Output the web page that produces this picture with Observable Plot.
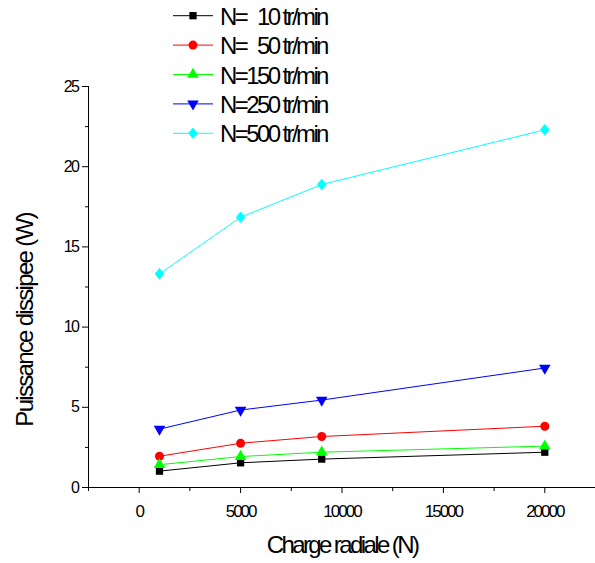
<!DOCTYPE html>
<html><head><meta charset="utf-8">
<script src="https://cdn.jsdelivr.net/npm/d3@7"></script>
<script src="https://cdn.jsdelivr.net/npm/@observablehq/plot@0.6"></script>
<style>
body{margin:0;background:#fff;}
#chart svg{display:block;font-family:"Liberation Sans",Arial,sans-serif;background:#fff;}
</style></head><body><div id="chart"></div>
<script>
// ---- data ----
const loads = [1000, 5000, 9000, 20000];
const seriesLabels = ["N=\u200710 tr/min", "N=\u200750 tr/min", "N=150 tr/min", "N=250 tr/min", "N=500 tr/min"];
const seriesColors = ["#000000", "#ff0000", "#00ff00", "#0000ff", "#00ffff"];
const seriesSymbols = ["square", "circle", "triangle", "triangle-down", "diamond"];
const power10 = [1.02, 1.54, 1.77, 2.2];
const power50 = [1.95, 2.76, 3.18, 3.82];
const power150 = [1.42, 1.93, 2.2, 2.58];
const power250 = [3.64, 4.83, 5.45, 7.45];
const power500 = [13.32, 16.85, 18.89, 22.3];
const xTicks = [0, 5000, 10000, 15000, 20000];
const xMinorTicks = [-2500, 2500, 7500, 12500, 17500];
const yTicks = [0, 5, 10, 15, 20, 25];
const yMinorTicks = [2.5, 7.5, 12.5, 17.5, 22.5];
const xTitle = "Charge radiale (N)";
const yTitle = "Puissance dissipee (W)";

const allPower = [power10, power50, power150, power250, power500];

const triangleDown = {
  draw(ctx, size) {
    const s3 = Math.sqrt(3);
    const y = -Math.sqrt(size / (s3 * 3));
    ctx.moveTo(0, -y * 2);
    ctx.lineTo(-s3 * y, y);
    ctx.lineTo(s3 * y, y);
    ctx.closePath();
  }
};
const wideDiamond = {
  draw(ctx, size) {
    const h = Math.sqrt(size * 2 / 0.82) / 2;
    const w = h * 0.82;
    ctx.moveTo(0, -h);
    ctx.lineTo(w, 0);
    ctx.lineTo(0, h);
    ctx.lineTo(-w, 0);
    ctx.closePath();
  }
};
const symbolTypes = {
  square: d3.symbolSquare, circle: d3.symbolCircle, triangle: d3.symbolTriangle,
  "triangle-down": triangleDown, diamond: wideDiamond
};
const symbolRadius = [4.1, 4.5, 4.3, 4.3, 4.2];

const rows = [];
allPower.forEach((vals, si) => {
  vals.forEach((v, i) => rows.push({series: seriesLabels[si], load: loads[i], power: v, si}));
});

const marks = [
  Plot.ruleY([0], {stroke: "#000", strokeWidth: 1}),
  Plot.ruleX([-2500], {stroke: "#000", strokeWidth: 1}),
  Plot.axisX({ticks: xTicks, tickSize: 6, tickPadding: 11, fontSize: 17, label: null, tickFormat: d => String(d)}),
  Plot.axisX({ticks: xMinorTicks, tickSize: 4, text: null, label: null}),
  Plot.axisY({ticks: yTicks, tickSize: 6, tickPadding: 4, fontSize: 16, label: null, tickFormat: d => String(d)}),
  Plot.axisY({ticks: yMinorTicks, tickSize: 3, text: null, label: null})
];
seriesLabels.forEach((lab, si) => {
  const data = rows.filter(r => r.si === si);
  marks.push(Plot.line(data, {x: "load", y: "power", stroke: seriesColors[si], strokeWidth: 1}));
  marks.push(Plot.dot(data, {x: "load", y: "power", fill: seriesColors[si], stroke: "none",
    symbol: symbolTypes[seriesSymbols[si]], r: symbolRadius[si]}));
});

const chart = Plot.plot({
  width: 595, height: 563,
  marginLeft: 88, marginRight: 0, marginTop: 86, marginBottom: 76,
  x: {domain: [-2500, 22500]},
  y: {domain: [0, 25]},
  style: {fontFamily: "'Liberation Sans', Arial, sans-serif", color: "#000", background: "#fff"},
  marks
});
document.getElementById("chart").appendChild(chart);

const svg = d3.select(chart);
svg.selectAll('g[aria-label="x-axis tick label"] text').style("letter-spacing", "-2px");
svg.selectAll('g[aria-label="y-axis tick label"] text').style("letter-spacing", "-1.5px");

// axis titles
svg.append("text").text(xTitle)
  .attr("x", 342).attr("y", 553).attr("text-anchor", "middle")
  .attr("font-size", 24).style("letter-spacing", "-2.6px").attr("fill", "#000");
svg.append("text").text(yTitle)
  .attr("transform", "translate(33,320) rotate(-90)").attr("text-anchor", "middle")
  .attr("font-size", 24).style("letter-spacing", "-1.7px").attr("fill", "#000");

// legend
const lg = svg.append("g").attr("text-anchor", "start");
seriesLabels.forEach((lab, si) => {
  const cy = 15.7 + si * 29.4;
  lg.append("line").attr("x1", 173).attr("x2", 213).attr("y1", cy).attr("y2", cy)
    .attr("stroke", seriesColors[si]).attr("stroke-width", 1);
  const r = symbolRadius[si];
  lg.append("path").attr("d", d3.symbol(symbolTypes[seriesSymbols[si]], r * r * Math.PI)())
    .attr("transform", `translate(193,${cy})`).attr("fill", seriesColors[si]);
  lg.append("text").text(lab).attr("x", 220).attr("y", cy + 9)
    .attr("text-anchor", "start")
    .attr("font-size", 24).style("letter-spacing", "-2.6px")
    .attr("fill", "#000");
});
</script>
</body></html>
